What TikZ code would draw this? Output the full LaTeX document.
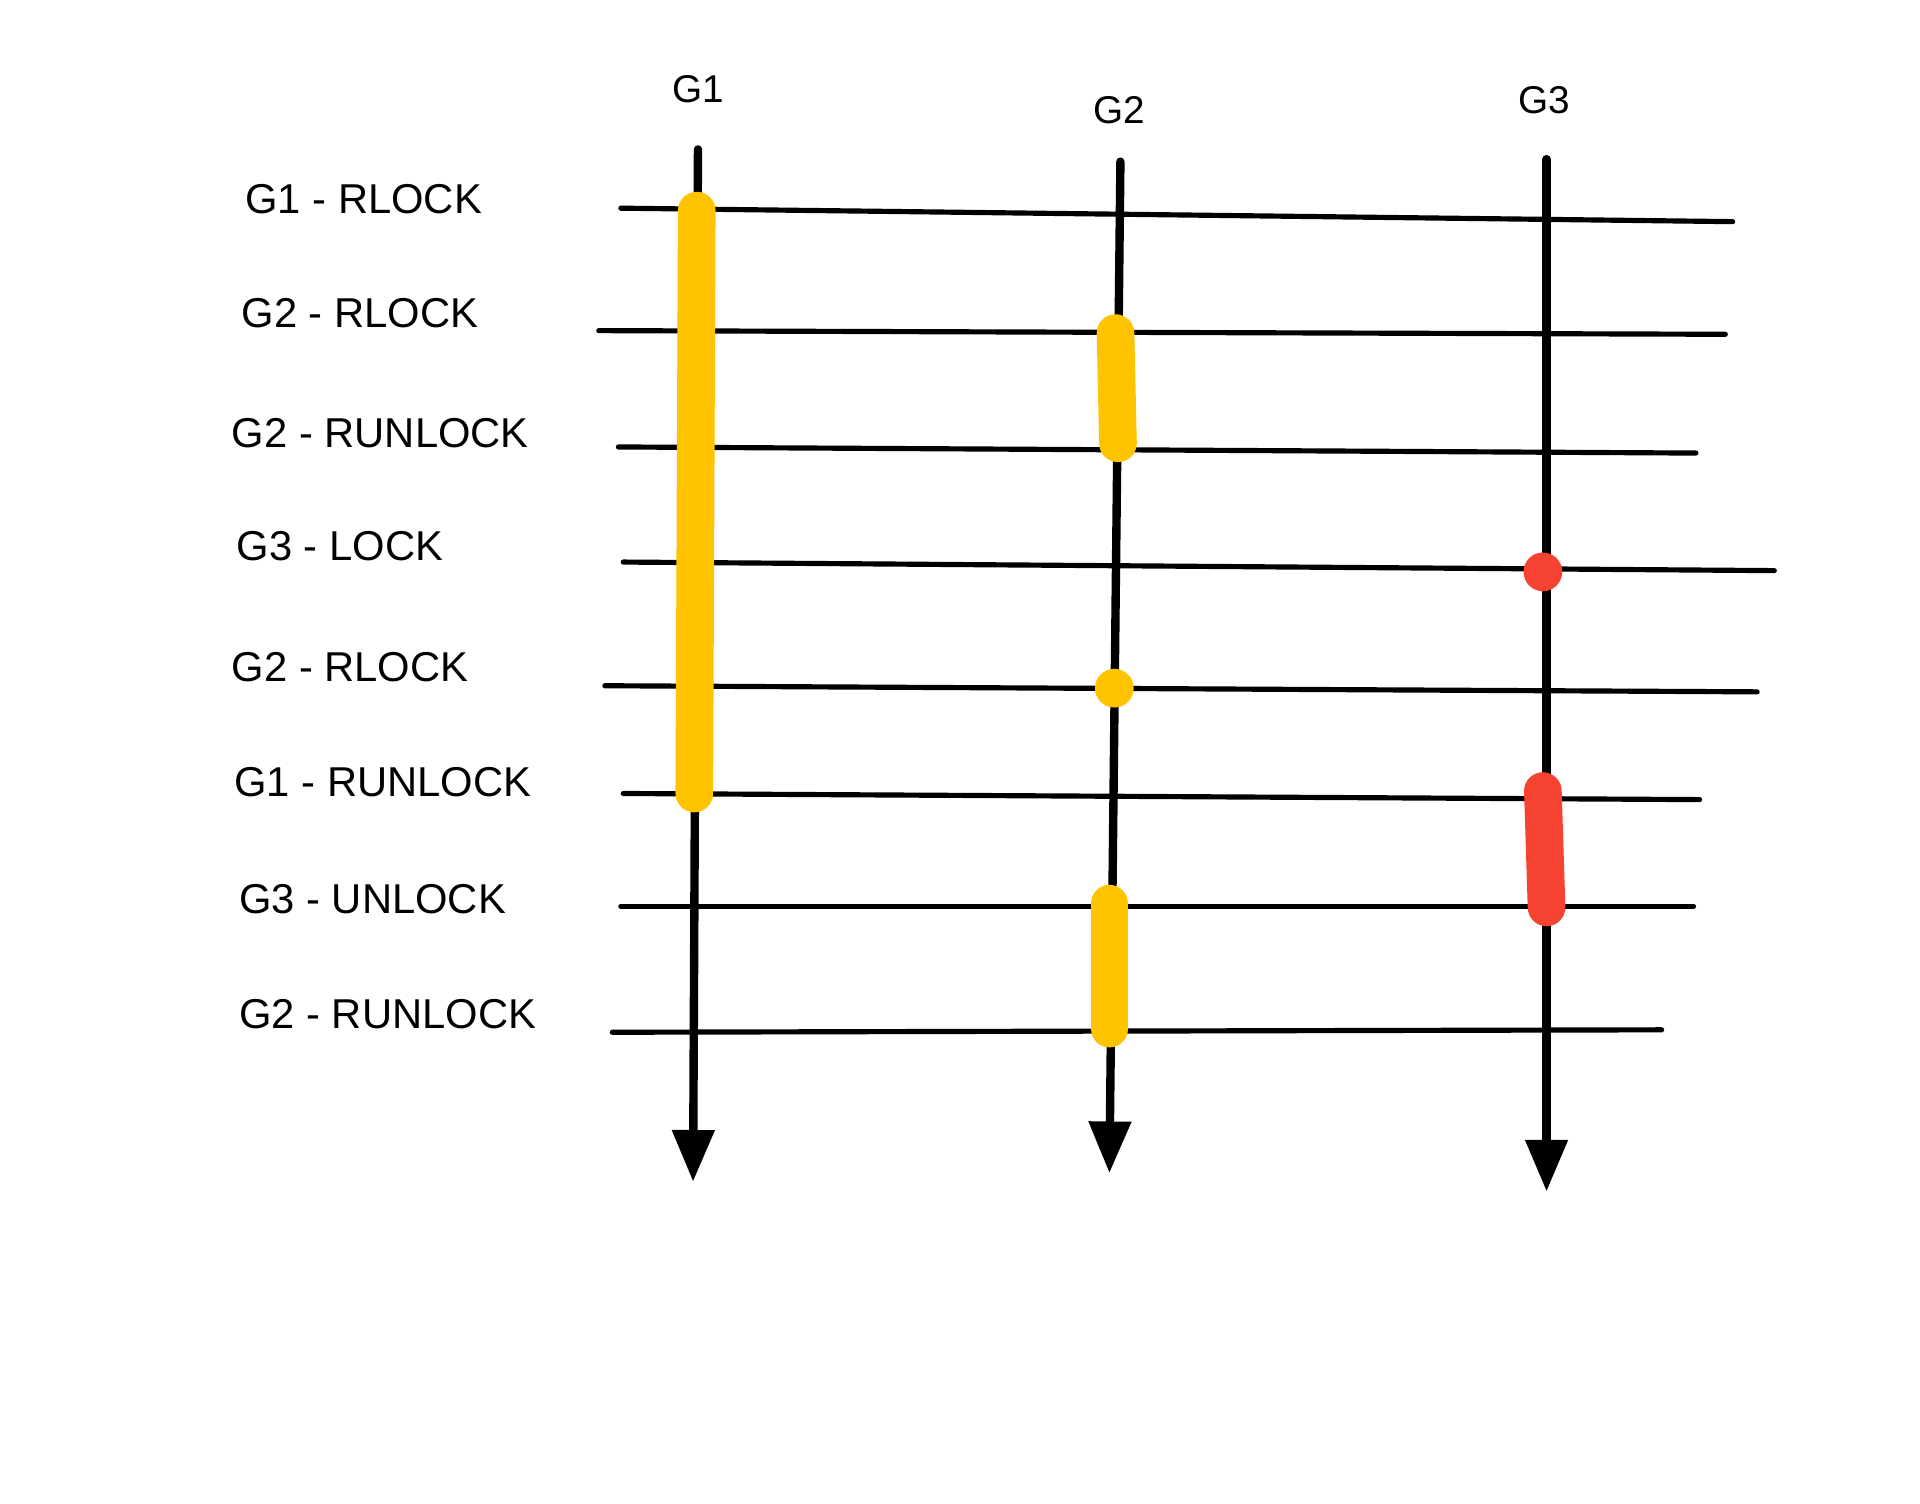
\documentclass[tikz,border=0pt]{standalone}
\usepackage{fontspec}
\setmainfont{Liberation Sans}
\usetikzlibrary{arrows.meta}
\definecolor{lockyellow}{RGB}{255,195,0}
\definecolor{lockred}{RGB}{246,66,48}
\begin{document}
\begin{tikzpicture}[x=0.02cm,y=-0.02cm,
  rowline/.style={line width=2.4pt, line cap=round},
  timeline/.style={line width=3.9pt, line cap=round, -{Triangle[length=24pt,width=19pt]}},
  ybar/.style={line width=17.5pt, line cap=round, draw=lockyellow},
  rbar/.style={line width=17.5pt, line cap=round, draw=lockred},
  ydot/.style={circle, fill=lockyellow, minimum size=18pt, inner sep=0pt},
  rdot/.style={circle, fill=lockred, minimum size=18pt, inner sep=0pt},
  lbl/.style={anchor=west, inner sep=0pt, font=\fontsize{19.4}{22}\selectfont},
  ttl/.style={inner sep=0pt, font=\fontsize{18}{21}\selectfont}]
\fill[white] (0,0) rectangle (1568,1228);
\useasboundingbox (0,0) rectangle (1568,1228);

% labels
\node[lbl] (l1) at (200,163) {G1 - RLOCK};
\node[lbl] (l2) at (197,256) {G2 - RLOCK};
\node[lbl] (l3) at (189,354) {G2 - RUNLOCK};
\node[lbl] (l4) at (193,446) {G3 - LOCK};
\node[lbl] (l5) at (189,545) {G2 - RLOCK};
\node[lbl] (l6) at (191,639) {G1 - RUNLOCK};
\node[lbl] (l7) at (195,734) {G3 - UNLOCK};
\node[lbl] (l8) at (195,828) {G2 - RUNLOCK};

% titles
\node[ttl] (t1) at (570,73) {G1};
\node[ttl] (t2) at (914,90) {G2};
\node[ttl] (t3) at (1261,82) {G3};

% row line ends
\coordinate (r1a) at (507,170);  \coordinate (r1b) at (1415,181);
\coordinate (r2a) at (489,270);  \coordinate (r2b) at (1409,273);
\coordinate (r3a) at (505,365);  \coordinate (r3b) at (1385,370);
\coordinate (r4a) at (509,459);  \coordinate (r4b) at (1449,466);
\coordinate (r5a) at (494,560);  \coordinate (r5b) at (1435,565);
\coordinate (r6a) at (509,648);  \coordinate (r6b) at (1388,653);
\coordinate (r7a) at (507,740);  \coordinate (r7b) at (1383,740);
\coordinate (r8a) at (500,843);  \coordinate (r8b) at (1357,841);

\foreach \i in {1,...,8} \draw[rowline] (r\i a) -- (r\i b);

% timelines
\coordinate (g1top) at (570,122); \coordinate (g1end) at (566,965);
\coordinate (g2top) at (915,132); \coordinate (g2end) at (906,958);
\coordinate (g3top) at (1263,130); \coordinate (g3end) at (1263,973);
\draw[timeline] (g1top) -- (g1end);
\draw[timeline] (g2top) -- (g2end);
\draw[timeline] (g3top) -- (g3end);

% lock holding bars
\coordinate (b1a) at (569,172); \coordinate (b1b) at (567,648);
\coordinate (b2a) at (911,272); \coordinate (b2b) at (913,362);
\coordinate (b3a) at (906,738); \coordinate (b3b) at (906,840);
\coordinate (b4a) at (1260,646); \coordinate (b4b) at (1263,741);
\draw[ybar] (b1a) -- (b1b);
\draw[ybar] (b2a) -- (b2b);
\draw[ybar] (b3a) -- (b3b);
\draw[rbar] (b4a) -- (b4b);
\node[ydot] (d1) at (910,562) {};
\node[rdot] (d2) at (1260,467) {};
\end{tikzpicture}
\end{document}
